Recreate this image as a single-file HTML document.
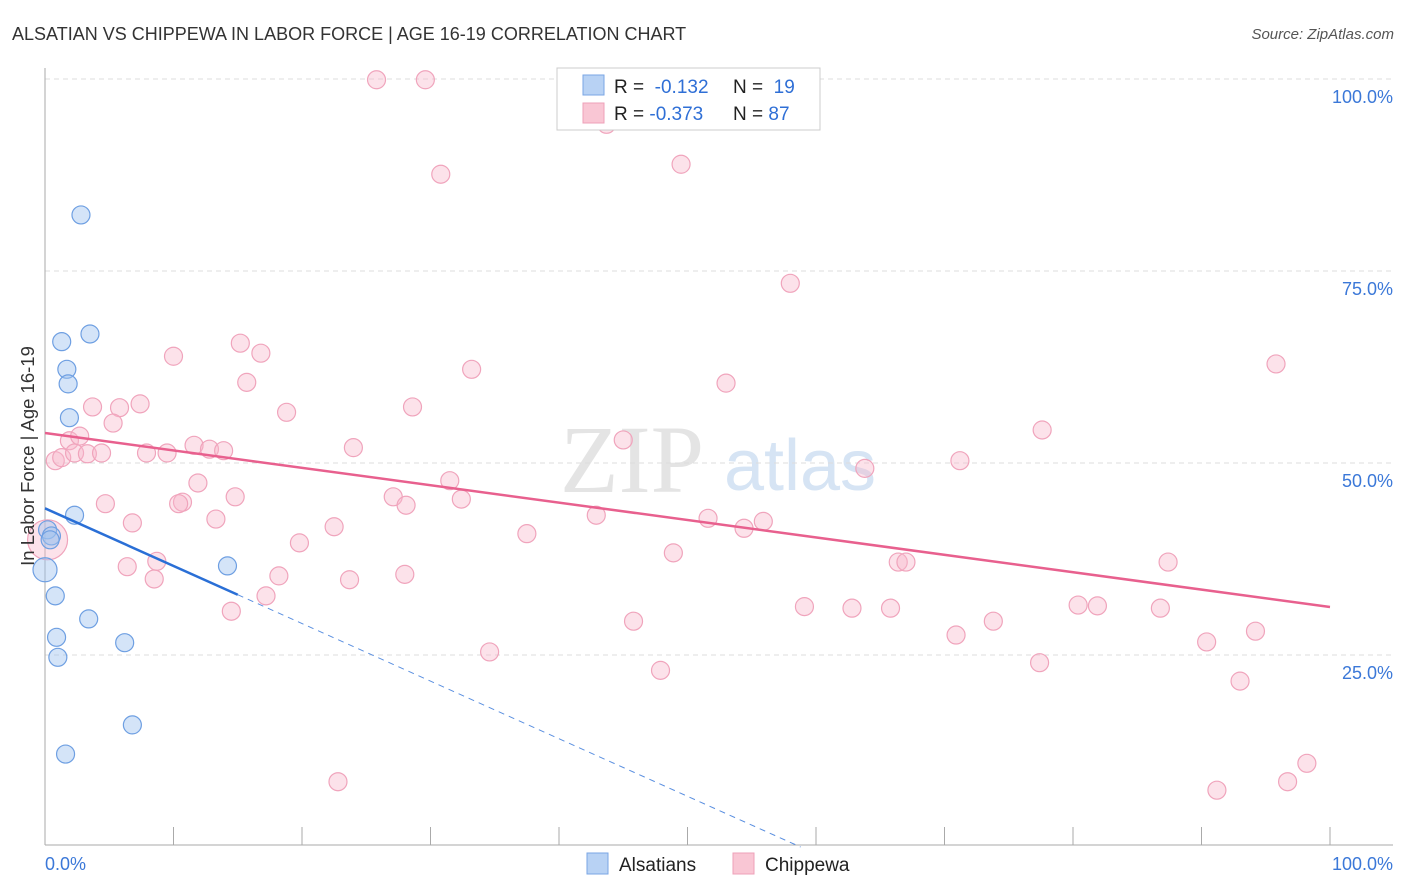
<!DOCTYPE html>
<html><head><meta charset="utf-8"><style>
body{margin:0;background:#fff;font-family:"Liberation Sans",sans-serif;}
svg{display:block}
</style></head><body>
<svg id="chart" width="1406" height="892" xmlns="http://www.w3.org/2000/svg">
<text x="12" y="40" font-size="18" fill="#333">ALSATIAN VS CHIPPEWA IN LABOR FORCE | AGE 16-19 CORRELATION CHART</text>
<text x="1394" y="39" font-size="15" fill="#555" font-style="italic" text-anchor="end">Source: ZipAtlas.com</text>
<g>
<text x="632" y="492" font-size="96" fill="#e4e4e4" font-family="Liberation Serif,serif" text-anchor="middle">ZIP</text>
<text x="800" y="490" font-size="72" fill="#d6e4f4" text-anchor="middle">atlas</text>
</g>
<g id="grid"></g>
<g id="axes"></g>
<g id="pts"></g>
<g id="lines"></g>
<text x="34" y="456" font-size="18.5" fill="#333" text-anchor="middle" transform="rotate(-90 34 456)">In Labor Force | Age 16-19</text>
<g>
<rect x="557" y="68" width="263" height="62" fill="#fff" stroke="#ccc"/>
<rect x="583" y="75" width="21" height="20" fill="#b8d2f4" stroke="#7aa6e4"/>
<rect x="583" y="103" width="21" height="20" fill="#f9c6d4" stroke="#eea0b8"/>
<text x="614" y="93" font-size="19" fill="#222">R = <tspan fill="#2f6fd6">&#160;-0.132</tspan><tspan x="733">N = </tspan><tspan fill="#2f6fd6">&#160;19</tspan></text>
<text x="614" y="120" font-size="19" fill="#222">R = <tspan fill="#2f6fd6">-0.373</tspan><tspan x="733">N = </tspan><tspan fill="#2f6fd6">87</tspan></text>
</g>
<g>
<rect x="587" y="853" width="21" height="21" fill="#b8d2f4" stroke="#7aa6e4"/>
<text x="619" y="871" font-size="19" fill="#222">Alsatians</text>
<rect x="733" y="853" width="21" height="21" fill="#f9c6d4" stroke="#eea0b8"/>
<text x="765" y="871" font-size="19" fill="#222">Chippewa</text>
</g>
</svg>
<script>
const yTicks=[25,50,75,100];
const yTickLabels=["25.0%","50.0%","75.0%","100.0%"];
const xTicks=[0,10,20,30,40,50,60,70,80,90,100];
const alsX=[2.8,1.3,3.5,1.7,1.8,1.9,2.3,0.2,0.5,0,0.8,3.4,0.9,1.0,6.2,14.2,6.8,1.6,0.4];
const alsY=[82.3,65.8,66.8,62.2,60.3,55.9,43.2,41.3,40.5,36.1,32.7,29.7,27.3,24.7,26.6,36.6,15.9,12.1,40.0];
const chiX=[25.8,29.6,43.7,30.8,49.5,58.0,95.8,10.0,15.2,16.8,15.7,33.2,53.0,3.7,5.8,7.4,18.8,28.6,5.3,1.9,2.7,0.8,1.3,2.3,3.3,4.4,11.6,12.8,13.9,7.9,9.5,24.0,45.0,77.6,71.2,63.8,31.5,27.1,32.4,28.1,14.8,11.9,10.7,10.4,4.7,13.3,6.8,22.5,19.8,37.5,42.9,51.6,54.4,55.9,48.9,66.4,67.0,87.4,8.7,6.4,8.5,18.2,23.7,28.0,17.2,14.5,45.8,59.1,62.8,65.8,73.8,70.9,80.4,81.9,86.8,94.2,90.4,34.6,47.9,77.4,93.0,22.8,91.2,96.7,98.2,0.2];
const chiY=[99.9,99.9,94.1,87.6,88.9,73.4,62.9,63.9,65.6,64.3,60.5,62.2,60.4,57.3,57.2,57.7,56.6,57.3,55.2,52.9,53.5,50.3,50.7,51.3,51.2,51.3,52.3,51.8,51.6,51.3,51.3,52.0,53.0,54.3,50.3,49.3,47.7,45.6,45.3,44.5,45.6,47.4,44.9,44.7,44.7,42.7,42.2,41.7,39.6,40.8,43.2,42.8,41.5,42.4,38.3,37.1,37.1,37.1,37.2,36.5,34.9,35.3,34.8,35.5,32.7,30.7,29.4,31.3,31.1,31.1,29.4,27.6,31.5,31.4,31.1,28.1,26.7,25.4,23.0,24.0,21.6,8.5,7.4,8.5,10.9,40.0];
const alsTrend=[44.1,-0.75];
const chiTrend=[53.9,-0.2265];
const NS="http://www.w3.org/2000/svg";
const sx=v=>45+12.85*v, sy=v=>847-7.68*v;
function mk(t,a,p){const e=document.createElementNS(NS,t);for(const k in a)e.setAttribute(k,a[k]);document.getElementById(p).appendChild(e);return e;}
yTicks.forEach((t,i)=>{
 const g=mk('line',{x1:45,x2:1393,y1:sy(t),y2:sy(t),stroke:'#ddd','stroke-dasharray':'5,4'},'grid');
 
 
 const l=mk('text',{x:1393,y:sy(t)+24,'font-size':18,fill:'#3b78d8','text-anchor':'end'},'grid');
 l.textContent=yTickLabels[i];
 
 
});
const ya=mk('line',{x1:45,x2:45,y1:68,y2:845,stroke:'#aaa'},'axes');


const xa=mk('line',{x1:45,x2:1393,y1:845,y2:845,stroke:'#aaa'},'axes');


xTicks.forEach(t=>{const k=mk('line',{x1:sx(t),x2:sx(t),y1:827,y2:845,stroke:'#aaa'},'axes');
 
 });
const x0=mk('text',{x:45,y:870,'font-size':18,fill:'#3b78d8'},'axes');x0.textContent='0.0%';


const x1=mk('text',{x:1393,y:870,'font-size':18,fill:'#3b78d8','text-anchor':'end'},'axes');x1.textContent='100.0%';


chiX.forEach((x,i)=>{const c=mk('circle',{cx:sx(x),cy:sy(chiY[i]),r:i==chiX.length-1?20:9,fill:'rgba(248,182,202,0.4)',stroke:'#f0a4bc','stroke-width':1.2},'pts');
 
 });
alsX.forEach((x,i)=>{const c=mk('circle',{cx:sx(x),cy:sy(alsY[i]),r:i==9?12:9,fill:'rgba(160,196,240,0.45)',stroke:'#6e9fe2','stroke-width':1.2},'pts');
 
 });
const f=(t,x)=>t[0]+t[1]*x;
const pl=mk('line',{x1:sx(0),y1:sy(f(chiTrend,0)),x2:sx(100),y2:sy(f(chiTrend,100)),stroke:'#e8608e','stroke-width':2.5},'lines');


const bl=mk('line',{x1:sx(0),y1:sy(f(alsTrend,0)),x2:sx(15),y2:sy(f(alsTrend,15)),stroke:'#2a6fd6','stroke-width':2.5},'lines');


const xe=-alsTrend[0]/alsTrend[1];
const bd=mk('line',{x1:sx(15),y1:sy(f(alsTrend,15)),x2:sx(xe),y2:sy(0),stroke:'#5a8fe0','stroke-width':1,'stroke-dasharray':'6,5'},'lines');


</script>
</body></html>
